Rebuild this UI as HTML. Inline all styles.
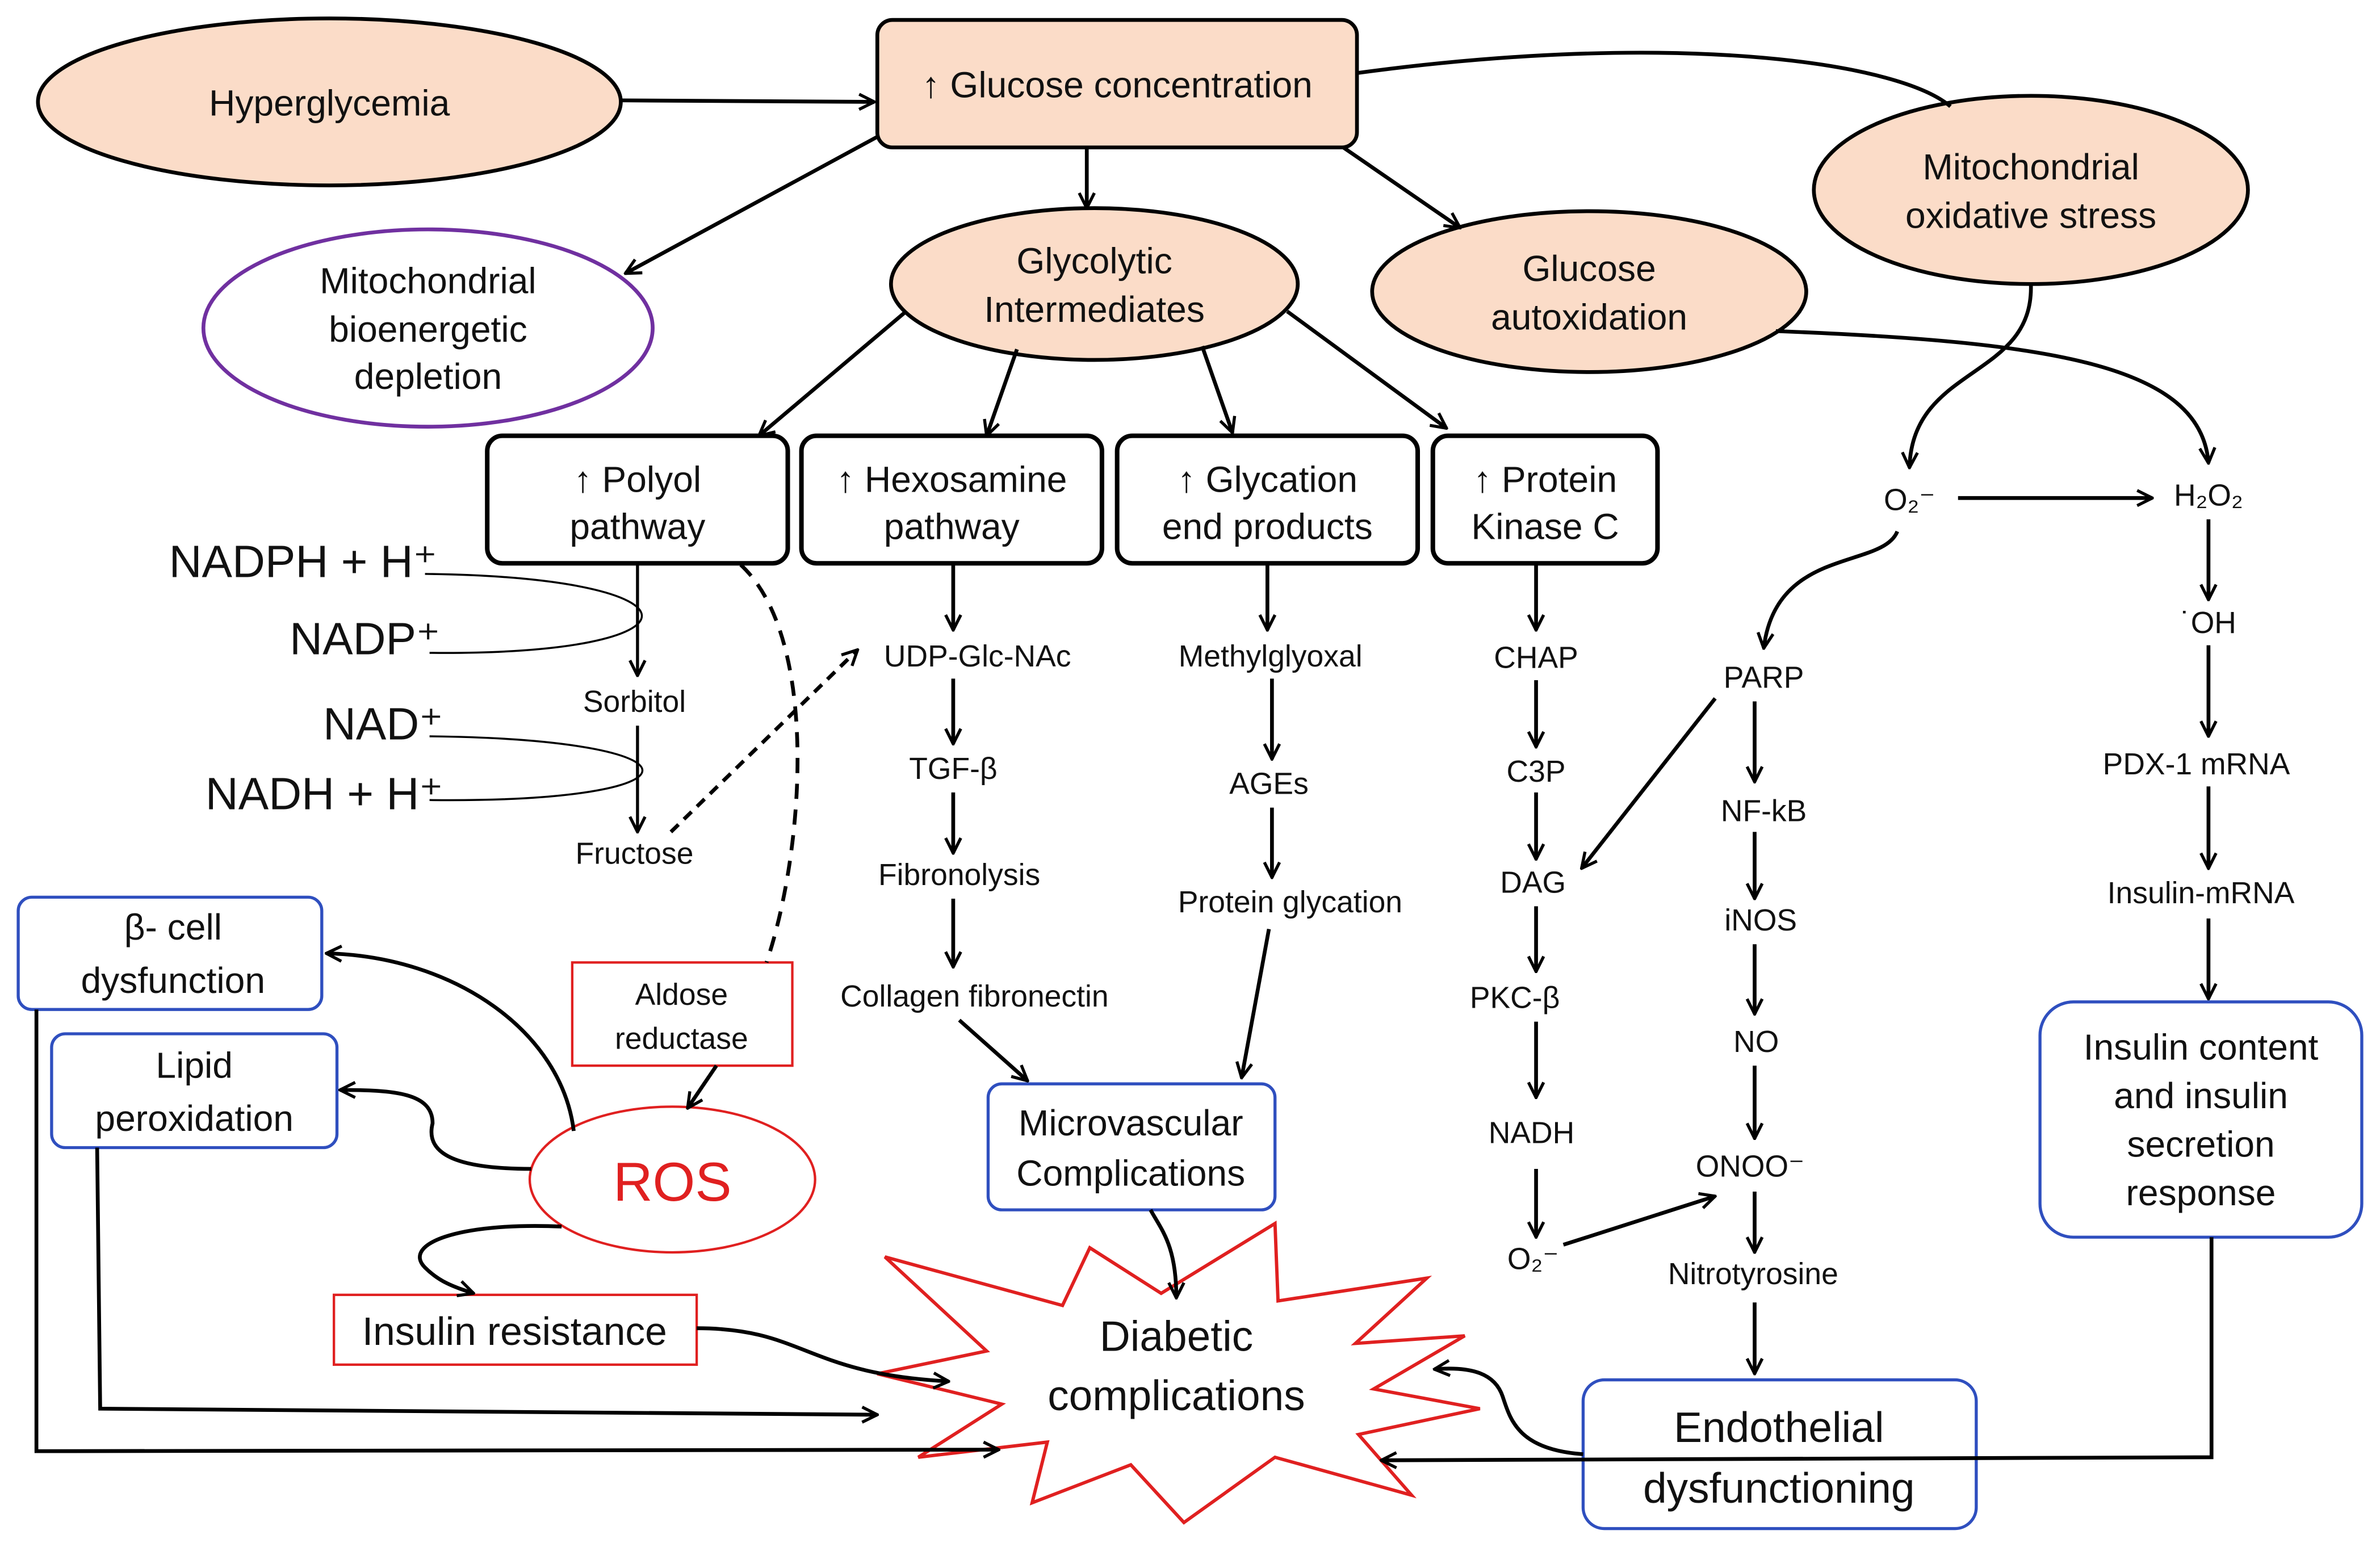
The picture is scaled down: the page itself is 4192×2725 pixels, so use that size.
<!DOCTYPE html>
<html><head><meta charset="utf-8"><style>
html,body{margin:0;padding:0;background:#fff;}
svg{display:block;}
text{font-family:"Liberation Sans",sans-serif;fill:#111;}
</style></head><body>
<svg width="4192" height="2725" viewBox="0 0 1568 1019" xmlns="http://www.w3.org/2000/svg">
<defs>
<marker id="a" viewBox="0 0 12 12" refX="11" refY="6" markerWidth="12" markerHeight="12" markerUnits="userSpaceOnUse" orient="auto">
<path d="M1,1 L11,6 L1,11" fill="none" stroke="#000" stroke-width="2"/>
</marker>
</defs>
<g fill="none" stroke="#000" stroke-width="2.5">
<!-- shapes -->
<ellipse cx="217" cy="67" rx="192" ry="55" fill="#fbdcc8"/>
<rect x="578" y="13" width="316" height="84" rx="10" fill="#fbdcc8"/>
<ellipse cx="1338" cy="125" rx="143" ry="62" fill="#fbdcc8"/>
<ellipse cx="282" cy="216" rx="148" ry="65" fill="#fff" stroke="#7030a0"/>
<ellipse cx="721" cy="187" rx="134" ry="50" fill="#fbdcc8"/>
<ellipse cx="1047" cy="192" rx="143" ry="53" fill="#fbdcc8"/>
<rect x="321" y="287" width="198" height="84" rx="10" stroke-width="3"/>
<rect x="528" y="287" width="198" height="84" rx="10" stroke-width="3"/>
<rect x="736" y="287" width="198" height="84" rx="10" stroke-width="3"/>
<rect x="944" y="287" width="148" height="84" rx="10" stroke-width="3"/>
<g stroke="#2f4fbf" stroke-width="2">
<rect x="12" y="591" width="200" height="74" rx="9"/>
<rect x="34" y="681" width="188" height="75" rx="9"/>
<rect x="651" y="714" width="189" height="83" rx="9"/>
<rect x="1344" y="660" width="212" height="155" rx="22"/>
<rect x="1043" y="909" width="259" height="98" rx="14"/>
</g>
<g stroke="#e02020" stroke-width="1.6">
<rect x="377" y="634" width="145" height="68"/>
<rect x="220" y="853" width="239" height="46"/>
<ellipse cx="443" cy="777" rx="94" ry="48"/>
<polygon stroke-width="2.2" fill="#fff" points="583,828 700,860 718,822 765,852 840,806 842,857 940,842 893,885 965,880 905,915 975,928 895,945 930,985 840,960 780,1003 745,965 680,990 690,950 605,960 660,925 578,905 650,890"/>
</g>
</g>
<!-- connectors -->
<g fill="none" stroke="#000" stroke-width="2.5" marker-end="url(#a)">
<path d="M410,66 L576,67"/>
<path d="M578,90 L412,180"/>
<path d="M716,97 L716,137"/>
<path d="M885,97 L962,150"/>
<path d="M1338,187 C1340,250 1260,240 1258,308"/>
<path d="M1170,218 C1350,225 1450,240 1455,305"/>
<path d="M1290,328 L1418,328"/>
<path d="M1250,350 C1240,375 1170,360 1162,427"/>
<path d="M1455,342 L1455,395"/>
<path d="M1455,425 L1455,485"/>
<path d="M1455,518 L1455,572"/>
<path d="M1455,605 L1455,658"/>
<path d="M597,205 L500,287"/>
<path d="M670,230 L650,287"/>
<path d="M792,228 L812,285"/>
<path d="M848,205 L953,282"/>
<path d="M420,371 L420,445" stroke-width="2"/>
<path d="M420,478 L420,548" stroke-width="2"/>
<path d="M442,548 L565,428" stroke-dasharray="7,5"/>
<path d="M472,702 L453,730"/>
<path d="M628,371 L628,415"/>
<path d="M628,447 L628,490"/>
<path d="M628,522 L628,562"/>
<path d="M628,592 L628,637"/>
<path d="M632,672 L677,712"/>
<path d="M835,371 L835,415"/>
<path d="M838,447 L838,500"/>
<path d="M838,532 L838,578"/>
<path d="M836,612 L818,710"/>
<path d="M1012,371 L1012,415"/>
<path d="M1012,448 L1012,492"/>
<path d="M1012,522 L1012,566"/>
<path d="M1012,597 L1012,640"/>
<path d="M1012,673 L1012,723"/>
<path d="M1012,770 L1012,815"/>
<path d="M1130,460 L1042,572"/>
<path d="M1156,462 L1156,515"/>
<path d="M1156,548 L1156,592"/>
<path d="M1156,622 L1156,668"/>
<path d="M1156,702 L1156,750"/>
<path d="M1156,785 L1156,825"/>
<path d="M1156,858 L1156,905"/>
<path d="M1030,820 L1130,788"/>
<path d="M758,797 C765,810 775,820 775,855"/>
<path d="M378,745 C370,680 300,630 215,628"/>
<path d="M350,770 C300,770 280,760 285,740 C285,720 260,718 224,718"/>
<path d="M370,808 C300,805 265,820 280,835 C290,845 300,848 312,852"/>
<path d="M459,875 C530,875 530,905 625,910"/>
<path d="M64,756 L66,928 L578,932"/>
<path d="M24,665 L24,956 L658,955"/>
<path d="M1457,815 L1457,960 L910,962"/>
<path d="M1043,958 C1000,955 995,935 990,920 C985,905 970,900 945,902"/>
</g>
<g fill="none" stroke="#000">
<path d="M894,48 C1100,20 1250,40 1285,70" stroke-width="2.5"/>
<path d="M488,372 C540,420 530,560 505,634" stroke-width="2.5" stroke-dasharray="10,7"/>
<path d="M280,378 C470,380 470,432 283,430" stroke-width="1.3"/>
<path d="M283,485 C470,487 470,529 283,527" stroke-width="1.3"/>
</g>
<!-- text -->
<g font-size="24" text-anchor="middle">
<text x="217" y="76">Hyperglycemia</text>
<text x="736" y="64">↑ Glucose concentration</text>
<text x="1338" y="118">Mitochondrial</text><text x="1338" y="150">oxidative stress</text>
<text x="282" y="193">Mitochondrial</text><text x="282" y="225">bioenergetic</text><text x="282" y="256">depletion</text>
<text x="721" y="180">Glycolytic</text><text x="721" y="212">Intermediates</text>
<text x="1047" y="185">Glucose</text><text x="1047" y="217">autoxidation</text>
<text x="420" y="324">↑ Polyol</text><text x="420" y="355">pathway</text>
<text x="627" y="324">↑ Hexosamine</text><text x="627" y="355">pathway</text>
<text x="835" y="324">↑ Glycation</text><text x="835" y="355">end products</text>
<text x="1018" y="324">↑ Protein</text><text x="1018" y="355">Kinase C</text>
<text x="114" y="619">β- cell</text><text x="114" y="654">dysfunction</text>
<text x="128" y="710">Lipid</text><text x="128" y="745">peroxidation</text>
<text x="745" y="748">Microvascular</text><text x="745" y="781">Complications</text>
<text x="1450" y="698">Insulin content</text><text x="1450" y="730">and insulin</text><text x="1450" y="762">secretion</text><text x="1450" y="794">response</text>
<text x="1172" y="950" font-size="28">Endothelial</text><text x="1172" y="990" font-size="28">dysfunctioning</text>
<text x="775" y="890" font-size="28">Diabetic</text><text x="775" y="929" font-size="28">complications</text>
<text x="339" y="886" font-size="26">Insulin resistance</text>
<text x="443" y="791" font-size="36" style="fill:#e02020">ROS</text>
</g>
<g font-size="20" text-anchor="middle">
<text x="449" y="662">Aldose</text><text x="449" y="691">reductase</text>
<text x="418" y="469">Sorbitol</text>
<text x="418" y="569">Fructose</text>
<text x="644" y="439">UDP-Glc-NAc</text>
<text x="628" y="513">TGF-β</text>
<text x="632" y="583">Fibronolysis</text>
<text x="642" y="663">Collagen fibronectin</text>
<text x="837" y="439">Methylglyoxal</text>
<text x="836" y="523">AGEs</text>
<text x="850" y="601">Protein glycation</text>
<text x="1012" y="440">CHAP</text>
<text x="1012" y="515">C3P</text>
<text x="1010" y="588">DAG</text>
<text x="998" y="664">PKC-β</text>
<text x="1009" y="753">NADH</text>
<text x="1010" y="836">O₂⁻</text>
<text x="1162" y="453">PARP</text>
<text x="1162" y="541">NF-kB</text>
<text x="1160" y="613">iNOS</text>
<text x="1157" y="693">NO</text>
<text x="1153" y="775">ONOO⁻</text>
<text x="1155" y="846">Nitrotyrosine</text>
<text x="1258" y="336">O₂⁻</text>
<text x="1455" y="333">H₂O₂</text>
<text x="1455" y="417">˙OH</text>
<text x="1447" y="510">PDX-1 mRNA</text>
<text x="1450" y="595">Insulin-mRNA</text>
</g>
<g font-size="30" text-anchor="end">
<text x="288" y="380">NADPH + H⁺</text>
<text x="290" y="431">NADP⁺</text>
<text x="292" y="487">NAD⁺</text>
<text x="292" y="533">NADH + H⁺</text>
</g>
</svg>
</body></html>
